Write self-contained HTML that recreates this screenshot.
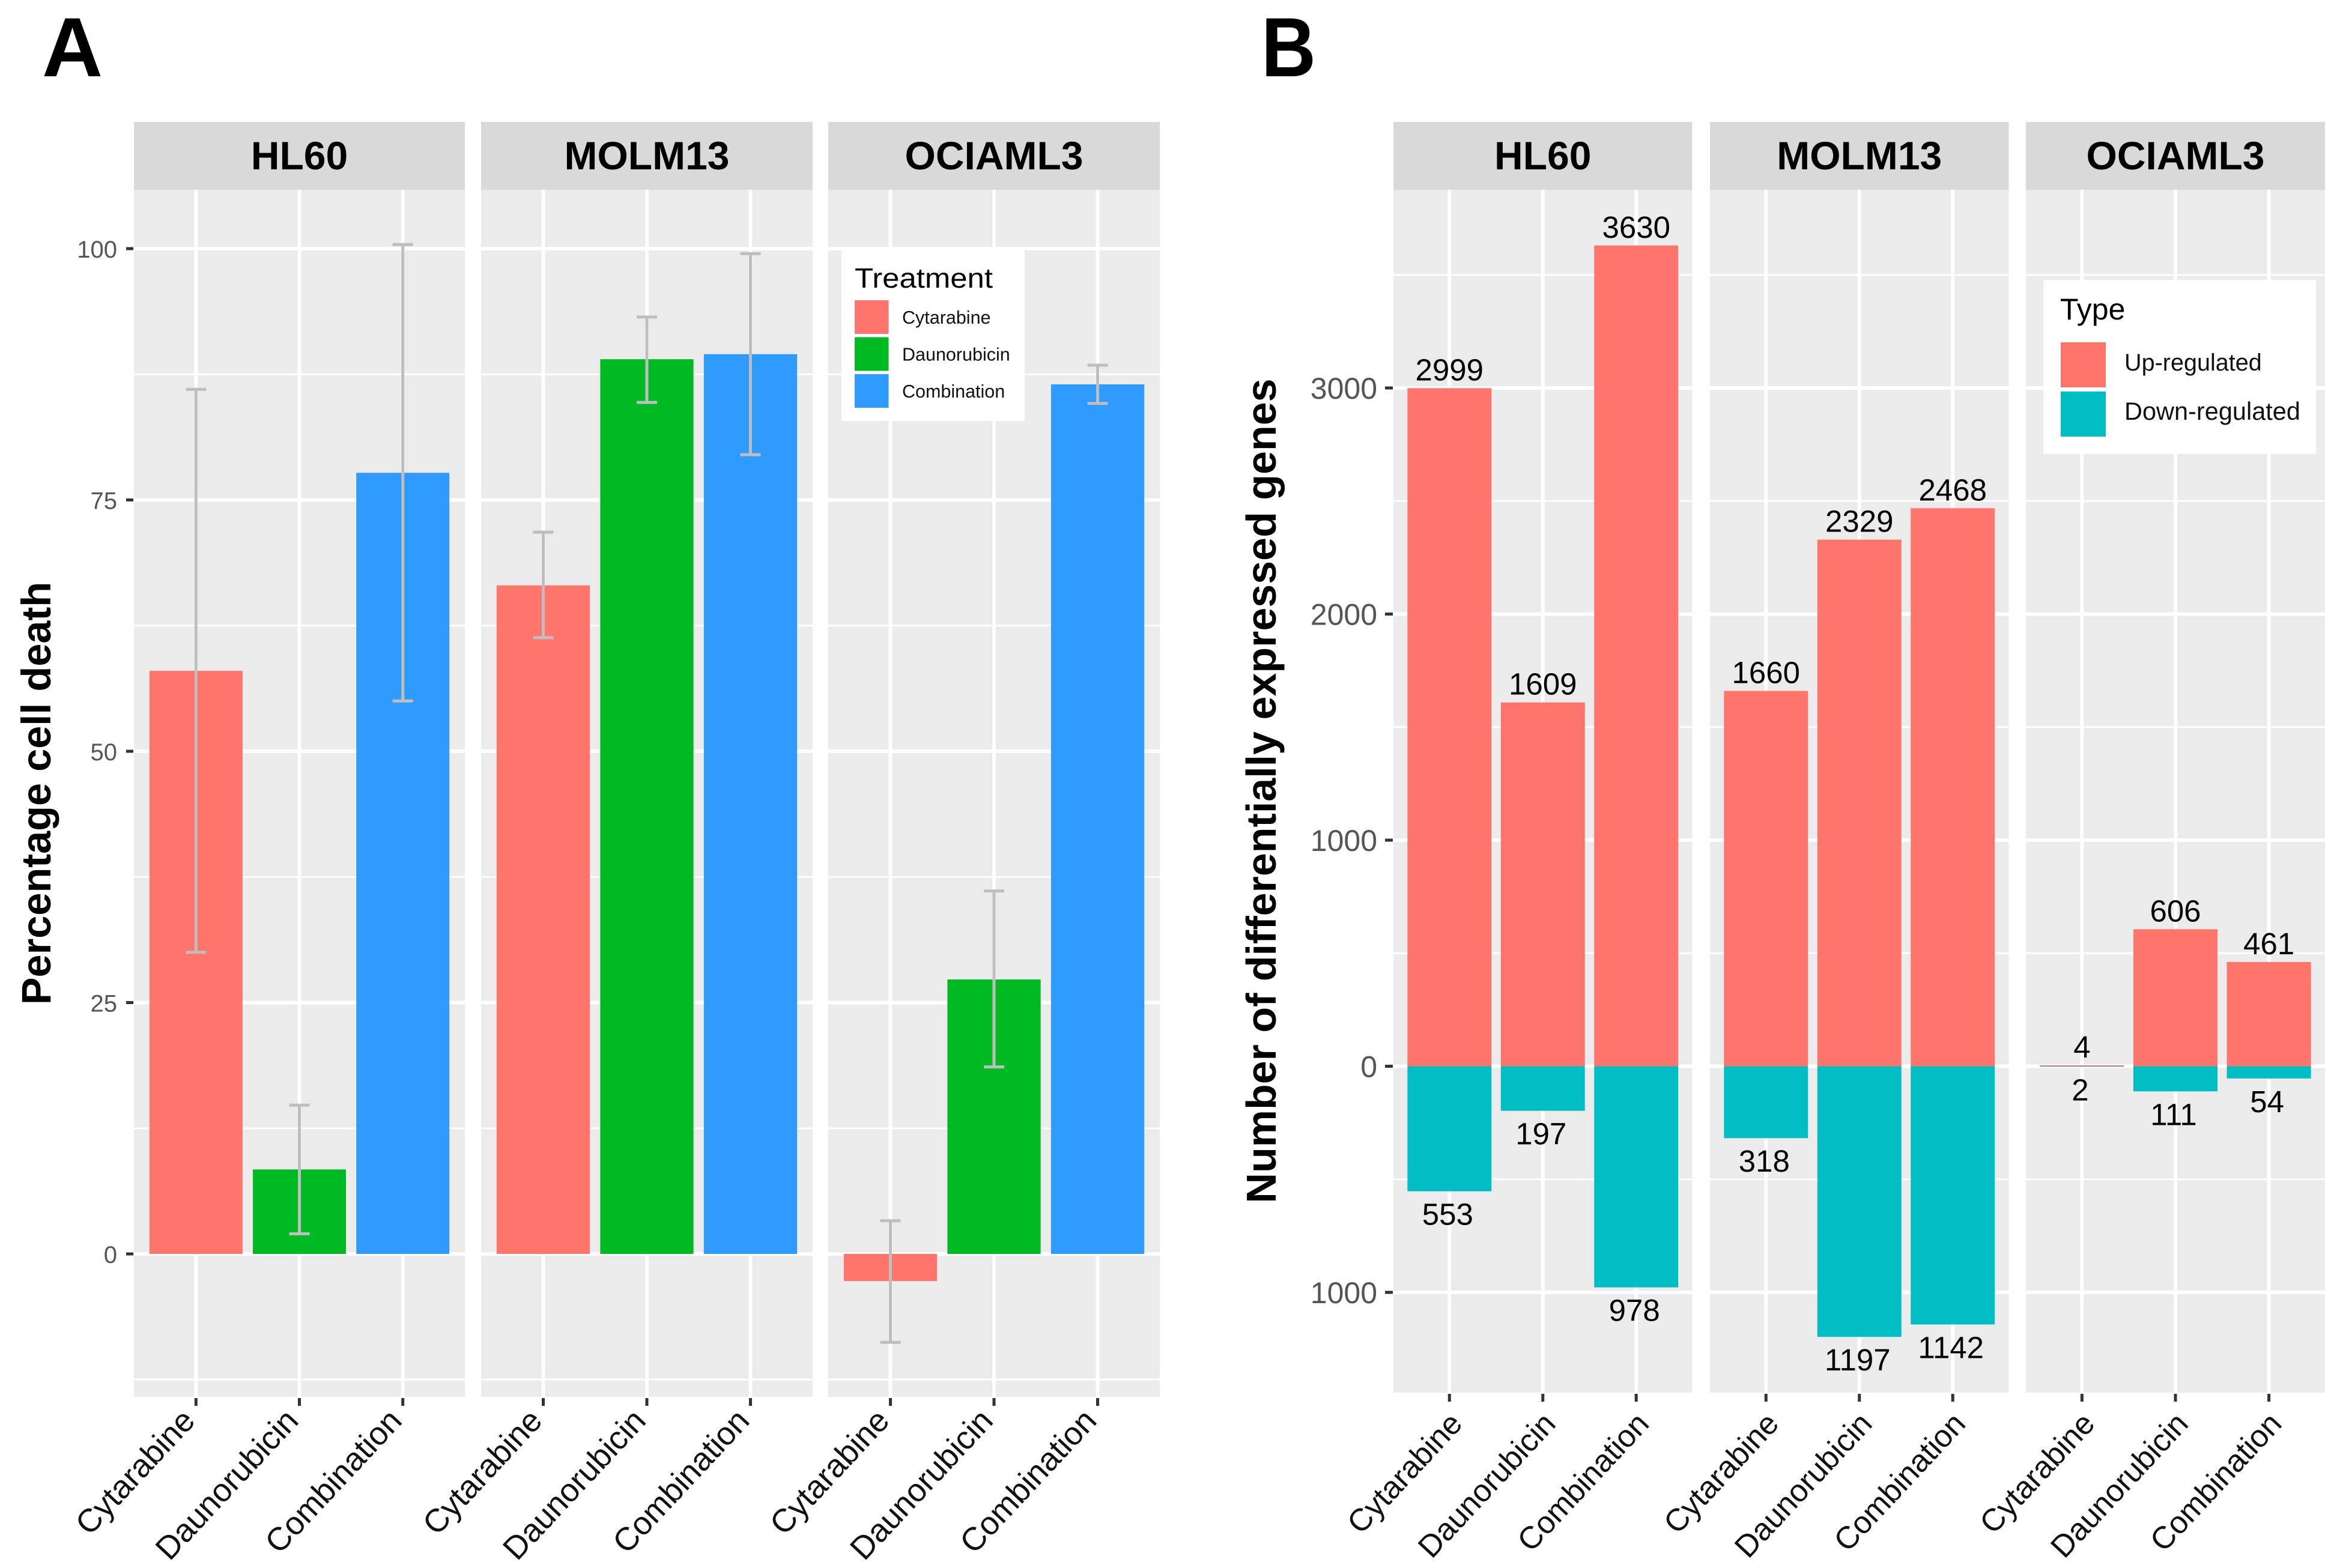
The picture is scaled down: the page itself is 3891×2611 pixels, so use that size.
<!DOCTYPE html>
<html>
<head>
<meta charset="utf-8">
<title>Cell death and differentially expressed genes</title>
<style>
html,body{margin:0;padding:0;background:#fff;}
svg{display:block;font-family:"Liberation Sans",sans-serif;}
</style>
</head>
<body>
<svg id="figure" xmlns="http://www.w3.org/2000/svg" width="3891" height="2611" viewBox="0 0 3891 2611">
<rect width="3891" height="2611" fill="#ffffff"/>
</svg>
<script>
const cellLines = ["HL60", "MOLM13", "OCIAML3"];
const treatments = ["Cytarabine", "Daunorubicin", "Combination"];
const deathTickValues = [0, 25, 50, 75, 100];
const deathMinorValues = [-12.5, 12.5, 37.5, 62.5, 87.5];
const geneTickValues = [-1000, 0, 1000, 2000, 3000];
const geneMinorValues = [-500, 500, 1500, 2500, 3500];
const hl60Death = [58, 8.4, 77.7];
const hl60DeathLow = [30, 2, 55];
const hl60DeathHigh = [86, 14.8, 100.4];
const molm13Death = [66.5, 89, 89.5];
const molm13DeathLow = [61.3, 84.7, 79.5];
const molm13DeathHigh = [71.8, 93.2, 99.5];
const ociaml3Death = [-2.7, 27.3, 86.5];
const ociaml3DeathLow = [-8.8, 18.6, 84.6];
const ociaml3DeathHigh = [3.3, 36.1, 88.4];
const hl60Up = [2999, 1609, 3630];
const hl60Down = [553, 197, 978];
const molm13Up = [1660, 2329, 2468];
const molm13Down = [318, 1197, 1142];
const ociaml3Up = [4, 606, 461];
const ociaml3Down = [2, 111, 54];

const deathByLine = [hl60Death, molm13Death, ociaml3Death];
const deathLowByLine = [hl60DeathLow, molm13DeathLow, ociaml3DeathLow];
const deathHighByLine = [hl60DeathHigh, molm13DeathHigh, ociaml3DeathHigh];
const upByLine = [hl60Up, molm13Up, ociaml3Up];
const downByLine = [hl60Down, molm13Down, ociaml3Down];

const svg = document.getElementById("figure");
const NS = "http://www.w3.org/2000/svg";
const treatmentColors = ["#ff746b", "#00ba24", "#2f9bff"];
const upColor = "#ff746b";
const downColor = "#00bec4";

function make(tag, attrs, text) {
  const el = document.createElementNS(NS, tag);
  for (const k in attrs) el.setAttribute(k, attrs[k]);
  if (text !== undefined) el.textContent = text;
  svg.appendChild(el);
  return el;
}
function rectEl(x, y, w, h, fill) {
  return make("rect", {x: x, y: y, width: w, height: h, fill: fill});
}
function lineEl(x1, y1, x2, y2, stroke, sw) {
  return make("line", {x1: x1, y1: y1, x2: x2, y2: y2, stroke: stroke, "stroke-width": sw});
}
function textEl(x, y, str, size, fill, anchor, weight) {
  return make("text", {x: x, y: y, "font-size": size, fill: fill, "text-anchor": anchor || "start", "font-weight": weight || "normal"}, str);
}

// Axis functions
function linearY(v0, y0, v1, y1) { return v => y0 + (v - v0) * (y1 - y0) / (v1 - v0); }
const deathY = linearY(0, 2088, 100, 414);
const geneY = linearY(0, 1775.5, 1000, 1399);
function bandX(left, right) {
  const unit = (right - left) / 3.2;
  return i => left + (i + 0.6) * unit;
}
function bandWidth(left, right) { return 0.9 * (right - left) / 3.2; }

const STRIP_TOP = 203, STRIP_BOTTOM = 316;

function drawPanelFrame(prefix, lineIdx, left, right, bottom, yScale, majors, minors, xTickOffset, xLabelFont, xTickTop, xTickBottom, labelY) {
  const strip = rectEl(left, STRIP_TOP, right - left, STRIP_BOTTOM - STRIP_TOP, "#d9d9d9");
  
  
  const stripLabel = textEl((left + right) / 2, 282, cellLines[lineIdx], 66, "#000", "middle", "bold");
  
  
  const bg = rectEl(left, STRIP_BOTTOM, right - left, bottom - STRIP_BOTTOM, "#ebebeb");
  
  
  minors.forEach(v => {
    const g = lineEl(left, yScale(v), right, yScale(v), "#fff", 3);
    
    
  });
  majors.forEach(v => {
    const g = lineEl(left, yScale(v), right, yScale(v), "#fff", 6);
    
    
  });
  const x = bandX(left, right);
  treatments.forEach((t, i) => {
    const g = lineEl(x(i), STRIP_BOTTOM, x(i), bottom, "#fff", 6);
    
    
    const tick = lineEl(x(i), xTickTop, x(i), xTickBottom, "#333", 5);
    
    
    const ax = x(i) + xTickOffset;
    const label = textEl(ax, labelY, t, xLabelFont, "#111", "end");
    label.setAttribute('transform', 'rotate(-47 ' + ax + ' ' + labelY + ')');
    
    
  });
}

// Panel A
const panelAEdges = [[223, 774], [801, 1353], [1379, 1931]];
const PANEL_A_BOTTOM = 2326;
panelAEdges.forEach((edge, li) => {
  drawPanelFrame("death", li, edge[0], edge[1], PANEL_A_BOTTOM, deathY, deathTickValues, deathMinorValues, 1, 54, 2328, 2341, 2368);
  const x = bandX(edge[0], edge[1]);
  const w = bandWidth(edge[0], edge[1]);
  deathByLine[li].forEach((v, i) => {
    const top = Math.min(deathY(v), deathY(0));
    const h = Math.abs(deathY(v) - deathY(0));
    const bar = rectEl(x(i) - w / 2, top, w, h, treatmentColors[i]);
    
    
  });
  deathByLine[li].forEach((v, i) => {
    const yLow = deathY(deathLowByLine[li][i]);
    const yHigh = deathY(deathHighByLine[li][i]);
    const stem = lineEl(x(i), yLow, x(i), yHigh, "#bebebe", 5);
    
    
    const capLow = lineEl(x(i) - 17, yLow, x(i) + 17, yLow, "#bebebe", 5);
    
    
    const capHigh = lineEl(x(i) - 17, yHigh, x(i) + 17, yHigh, "#bebebe", 5);
    
    
  });
});
deathTickValues.forEach(v => {
  const tick = lineEl(210, deathY(v), 222, deathY(v), "#333", 5);
  
  
  const label = textEl(195, deathY(v) + 15, String(v), 40, "#555", "end");
  
  
});
const deathTitle = textEl(0, 0, "Percentage cell death", 68.5, "#000", "middle", "bold");
deathTitle.setAttribute('transform', 'translate(84 1321) rotate(-90)');


const labelA = textEl(70, 127, "A", 140, "#000", "start", "bold");



// Legend A
const legendABox = rectEl(1401, 417, 305, 284, "#fff");


const legendATitle = textEl(1423, 479, "Treatment", 46, "#000");
legendATitle.setAttribute('textLength', '230');
legendATitle.setAttribute('lengthAdjust', 'spacingAndGlyphs');


treatments.forEach((t, i) => {
  const sw = rectEl(1423, 500 + i * 61.5, 56.5, 56, treatmentColors[i]);
  
  
  const lb = textEl(1502, 539 + i * 61.5, t, 30.5, "#111");
  
  
});

// Panel B
const panelBEdges = [[2320, 2817.5], [2847, 3344.5], [3373, 3871]];
const PANEL_B_BOTTOM = 2319;
panelBEdges.forEach((edge, li) => {
  drawPanelFrame("genes", li, edge[0], edge[1], PANEL_B_BOTTOM, geneY, geneTickValues, geneMinorValues, 24, 52, 2321, 2334, 2373);
  const x = bandX(edge[0], edge[1]);
  const w = bandWidth(edge[0], edge[1]);
  upByLine[li].forEach((v, i) => {
    const bar = rectEl(x(i) - w / 2, geneY(v), w, geneY(0) - geneY(v), upColor);
    
    
    const lb = textEl(x(i), geneY(v) - 13, String(v), 51, "#000", "middle");
    
    
  });
  downByLine[li].forEach((v, i) => {
    const bar = rectEl(x(i) - w / 2, geneY(0), w, geneY(-v) - geneY(0), downColor);
    
    
    const lb = textEl(x(i) - 3, geneY(-v) + 56, String(v), 51, "#000", "middle");
    
    
  });
});
geneTickValues.forEach(v => {
  const tick = lineEl(2306, geneY(v), 2319, geneY(v), "#333", 5);
  
  
  const label = textEl(2293, geneY(v) + 18, String(Math.abs(v)), 50, "#555", "end");
  
  
});
const genesTitle = textEl(0, 0, "Number of differentially expressed genes", 70, "#000", "middle", "bold");
genesTitle.setAttribute('transform', 'translate(2124 1317) rotate(-90)');


const labelB = textEl(0, 0, "B", 140, "#000", "start", "bold");
labelB.setAttribute('transform', 'translate(2100 127) scale(0.9 1)');



// Legend B
const legendBBox = rectEl(3402, 466, 454, 290, "#fff");


const legendBTitle = textEl(3430, 532, "Type", 50, "#000");


const upSwatch = rectEl(3431, 570, 75, 75, upColor);


const downSwatch = rectEl(3431, 652, 75, 75, downColor);


const upLegend = textEl(3537, 617, "Up-regulated", 39.6, "#111");


const downLegend = textEl(3537, 699, "Down-regulated", 41.5, "#111");


</script>
</body>
</html>
